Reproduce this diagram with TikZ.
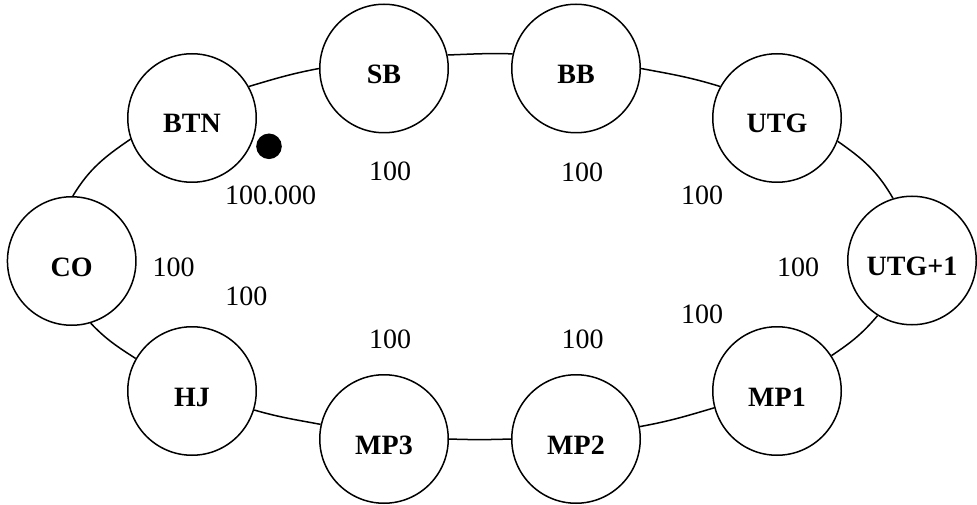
\documentclass[tikz,border=0pt]{standalone}
\usepackage{fontspec}
\setmainfont{Liberation Serif}
\begin{document}
\begin{tikzpicture}[x=1pt,y=1pt,line width=1.5pt,
  seat/.style={circle,draw,fill=white,minimum size=128.5pt,inner sep=0pt,
    font=\fontsize{28}{34}\selectfont\bfseries,text height=30pt,text depth=0pt},
  chips/.style={font=\fontsize{28}{34}\selectfont,inner sep=0pt},
  rim/.style={line width=1.5pt}]
\useasboundingbox (0,0) rectangle (977,504);
\node[seat] (btn)  at (192,386)   {BTN};
\node[seat] (sb)   at (384,435.5) {SB};
\node[seat] (bb)   at (576,435.5) {BB};
\node[seat] (utg)  at (777,386)   {UTG};
\node[seat] (utgp) at (912,243.5) {UTG+1};
\node[seat] (mp1)  at (777,113)   {MP1};
\node[seat] (mp2)  at (576,65)    {MP2};
\node[seat] (mp3)  at (384,65)    {MP3};
\node[seat] (hj)   at (192,113)   {HJ};
\node[seat] (co)   at (71.7,243)  {CO};
\draw[rim] (btn.29.5) to[out=16.6,in=190.7] (sb.180.4);
\draw[rim] (sb.12.6) to[out=2,in=178.2] (bb.167.4);
\draw[rim] (bb.-0.4) to[out=-10.5,in=162.9] (utg.151.7);
\draw[rim] (utg.-21.5) to[out=-34.8,in=119.9] (utgp.107.2);
\draw[rim] (utgp.238.7) to[out=229.8,in=33.7] (mp1.33.4);
\draw[rim] (mp1.195.2) to[out=196.5,in=10.3] (mp2.11.5);
\draw[rim] (mp2.180.9) to[out=181.8,in=-2] (mp3.-0.9);
\draw[rim] (mp3.167.7) to[out=169.4,in=-16.1] (hj.-17.2);
\draw[rim] (hj.150.2) to[out=147.2,in=-46.6] (co.-73);
\draw[rim] (co.89.6) to[out=58.9,in=214.2] (btn.199.3);
\node[circle,fill=black,minimum size=25.6pt,inner sep=0pt] (dealer) at (269,357.7) {};
\node[chips] (cbtn) at (270.5,309) {100.000};
\node[chips] (csb)  at (390,332.3) {100};
\node[chips] (cbb)  at (582,332) {100};
\node[chips] (cutg) at (702,308.7) {100};
\node[chips] (cutgp) at (798,237) {100};
\node[chips] (cmp1) at (702,189.3) {100};
\node[chips] (cmp2) at (582.7,164.7) {100};
\node[chips] (cmp3) at (390,164.3) {100};
\node[chips] (chj)  at (246.3,207.7) {100};
\node[chips] (cco)  at (173.7,237) {100};
\end{tikzpicture}
\end{document}
